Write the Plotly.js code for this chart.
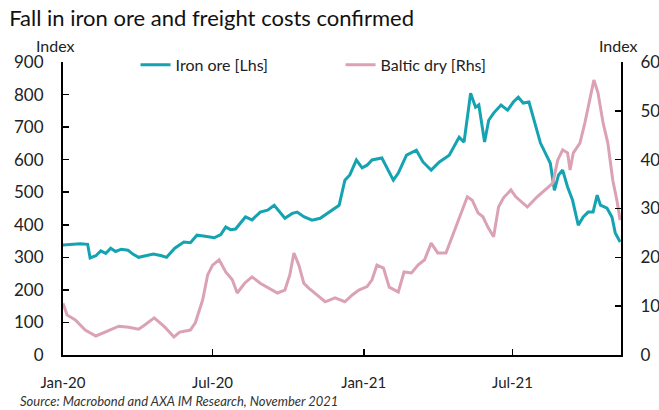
<!DOCTYPE html>
<html>
<head>
<meta charset="utf-8">
<script src="https://cdn.plot.ly/plotly-3.0.1.min.js"></script>
<style>html,body{margin:0;padding:0;background:#fff;}#chart{width:659px;height:410px;}</style>
</head>
<body>
<div id="chart"></div>
<script>
const ironDates = ["2020-01-01","2020-01-09","2020-01-22","2020-01-31","2020-02-03","2020-02-10","2020-02-16","2020-02-22","2020-02-28","2020-03-05","2020-03-12","2020-03-20","2020-03-26","2020-04-02","2020-04-12","2020-04-20","2020-04-30","2020-05-06","2020-05-16","2020-05-27","2020-06-04","2020-06-12","2020-06-22","2020-07-03","2020-07-11","2020-07-17","2020-07-23","2020-07-29","2020-08-10","2020-08-18","2020-08-28","2020-09-06","2020-09-14","2020-09-21","2020-09-27","2020-10-06","2020-10-12","2020-10-20","2020-10-30","2020-11-09","2020-11-20","2020-12-02","2020-12-09","2020-12-15","2020-12-23","2020-12-30","2021-01-05","2021-01-11","2021-01-23","2021-01-31","2021-02-06","2021-02-12","2021-02-22","2021-03-06","2021-03-14","2021-03-24","2021-04-03","2021-04-15","2021-04-27","2021-05-03","2021-05-11","2021-05-17","2021-05-21","2021-05-28","2021-06-02","2021-06-08","2021-06-17","2021-06-25","2021-07-02","2021-07-08","2021-07-14","2021-07-21","2021-07-27","2021-08-04","2021-08-10","2021-08-16","2021-08-21","2021-08-26","2021-08-31","2021-09-06","2021-09-12","2021-09-19","2021-09-25","2021-10-01","2021-10-07","2021-10-12","2021-10-16","2021-10-24","2021-10-30","2021-11-03","2021-11-09"];
const ironOre = [338,340,342,340,298,305,320,312,328,318,325,322,310,300,305,310,305,300,328,347,345,368,365,360,370,393,385,387,424,415,439,445,460,440,420,435,439,425,414,420,439,460,537,553,599,575,583,599,605,568,537,559,614,629,593,568,593,614,669,654,804,761,768,654,721,743,768,752,777,792,774,777,721,651,620,589,506,553,568,516,476,399,424,439,439,491,460,451,424,375,347];

const balticDates = ["2020-01-01","2020-01-06","2020-01-16","2020-01-28","2020-02-10","2020-02-22","2020-03-09","2020-03-21","2020-04-02","2020-04-09","2020-04-21","2020-05-04","2020-05-15","2020-05-22","2020-06-04","2020-06-10","2020-06-19","2020-06-25","2020-07-01","2020-07-09","2020-07-17","2020-07-25","2020-07-31","2020-08-09","2020-08-18","2020-08-28","2020-09-08","2020-09-18","2020-09-27","2020-10-03","2020-10-08","2020-10-14","2020-10-20","2020-10-26","2020-11-05","2020-11-15","2020-11-27","2020-12-09","2020-12-18","2020-12-26","2021-01-05","2021-01-11","2021-01-17","2021-01-25","2021-02-01","2021-02-12","2021-02-19","2021-02-28","2021-03-08","2021-03-16","2021-03-24","2021-04-01","2021-04-11","2021-04-17","2021-04-25","2021-05-03","2021-05-07","2021-05-13","2021-05-20","2021-05-26","2021-06-01","2021-06-08","2021-06-14","2021-06-20","2021-06-29","2021-07-05","2021-07-19","2021-07-31","2021-08-10","2021-08-19","2021-08-25","2021-08-31","2021-09-06","2021-09-09","2021-09-13","2021-09-21","2021-09-27","2021-10-03","2021-10-08","2021-10-13","2021-10-19","2021-10-25","2021-10-31","2021-11-05","2021-11-09"];
const balticDry = [10.6,8.2,7.2,5.1,3.9,4.7,5.9,5.7,5.3,6.1,7.6,5.7,3.7,4.7,5.1,6.6,11.3,16.4,18.4,19.5,17.0,15.4,12.7,14.7,16.0,14.7,13.7,12.7,13.3,16.4,20.9,18.4,14.7,13.7,12.3,10.9,11.7,10.9,12.3,13.3,14.0,15.4,18.4,17.8,13.9,12.9,17.0,16.8,18.4,19.5,22.9,20.9,20.9,23.6,27.0,30.7,32.4,31.7,29.1,28.3,26.2,24.2,30.3,32.2,33.8,32.4,30.3,32.4,33.8,35.2,39.9,42.0,41.4,37.9,41.4,43.4,47.5,52.6,56.3,53.7,47.7,43.4,35.8,31.7,27.6];

const xTickVals = ["2020-01-01","2020-07-01","2021-01-01","2021-07-01"];
const xTickText = ["Jan-20","Jul-20","Jan-21","Jul-21"];
const leftTicks = [0,100,200,300,400,500,600,700,800,900];
const rightTicks = [0,10,20,30,40,50,60];

const FONT = "Lato, 'Open Sans', sans-serif";
const traces = [
  {x: ironDates, y: ironOre, name: "Iron ore [Lhs]", type: "scatter", mode: "lines",
   line: {color: "#14a3b1", width: 3}, yaxis: "y"},
  {x: balticDates, y: balticDry, name: "Baltic dry [Rhs]", type: "scatter", mode: "lines",
   line: {color: "#dba2b4", width: 3}, yaxis: "y2"}
];
const layout = {
  width: 659, height: 410,
  margin: {l: 63, r: 38, t: 62, b: 55},
  paper_bgcolor: "#fff", plot_bgcolor: "#fff",
  font: {family: FONT, size: 15, color: "#222"},
  title: {text: "Fall in iron ore and freight costs confirmed", x: 0.014, xanchor: "left", y: 0.955, yanchor: "middle",
          font: {family: FONT, size: 22, color: "#111"}},
  showlegend: true,
  legend: {orientation: "h", x: 0.13, xanchor: "left", y: 0.99, yanchor: "middle",
           bgcolor: "rgba(0,0,0,0)", font: {family: FONT, size: 16, color: "#222"},
           entrywidth: 160, entrywidthmode: "pixels"},
  xaxis: {type: "date", range: ["2020-01-01", "2021-11-10"], showgrid: false, zeroline: false,
          showline: true, linecolor: "#000", linewidth: 2, ticks: "inside", ticklen: 6, tickwidth: 1.5, tickcolor: "#000",
          tickvals: xTickVals, ticktext: xTickText, ticklabelstandoff: 13, tickfont: {size: 15}, fixedrange: true},
  yaxis: {range: [0, 900], tickvals: leftTicks, showgrid: false, zeroline: false,
          showline: true, linecolor: "#000", linewidth: 2, ticks: "inside", ticklen: 6, tickwidth: 1.5, tickcolor: "#000",
          ticklabelstandoff: 14, tickfont: {size: 17}},
  yaxis2: {range: [0, 60], tickvals: rightTicks, overlaying: "y", side: "right", showgrid: false, zeroline: false,
           showline: true, linecolor: "#000", linewidth: 2, ticks: "inside", ticklen: 6, tickwidth: 1.5, tickcolor: "#000",
           ticklabelstandoff: 14, tickfont: {size: 17}},
  annotations: [
    {text: "Index", xref: "paper", yref: "paper", x: -0.013, y: 1.058, xanchor: "center", yanchor: "middle", showarrow: false,
     font: {family: FONT, size: 16, color: "#222"}},
    {text: "Index", xref: "paper", yref: "paper", x: 0.996, y: 1.058, xanchor: "center", yanchor: "middle", showarrow: false,
     font: {family: FONT, size: 16, color: "#222"}},
    {text: "<i>Source: Macrobond and AXA IM Research, November 2021</i>", xref: "paper", yref: "paper",
     x: -0.081, y: -0.158, xanchor: "left", yanchor: "middle", showarrow: false,
     font: {family: FONT, size: 13, color: "#333"}}
  ]
};
Plotly.newPlot("chart", traces, layout, {displayModeBar: false, staticPlot: true});
</script>
</body>
</html>
